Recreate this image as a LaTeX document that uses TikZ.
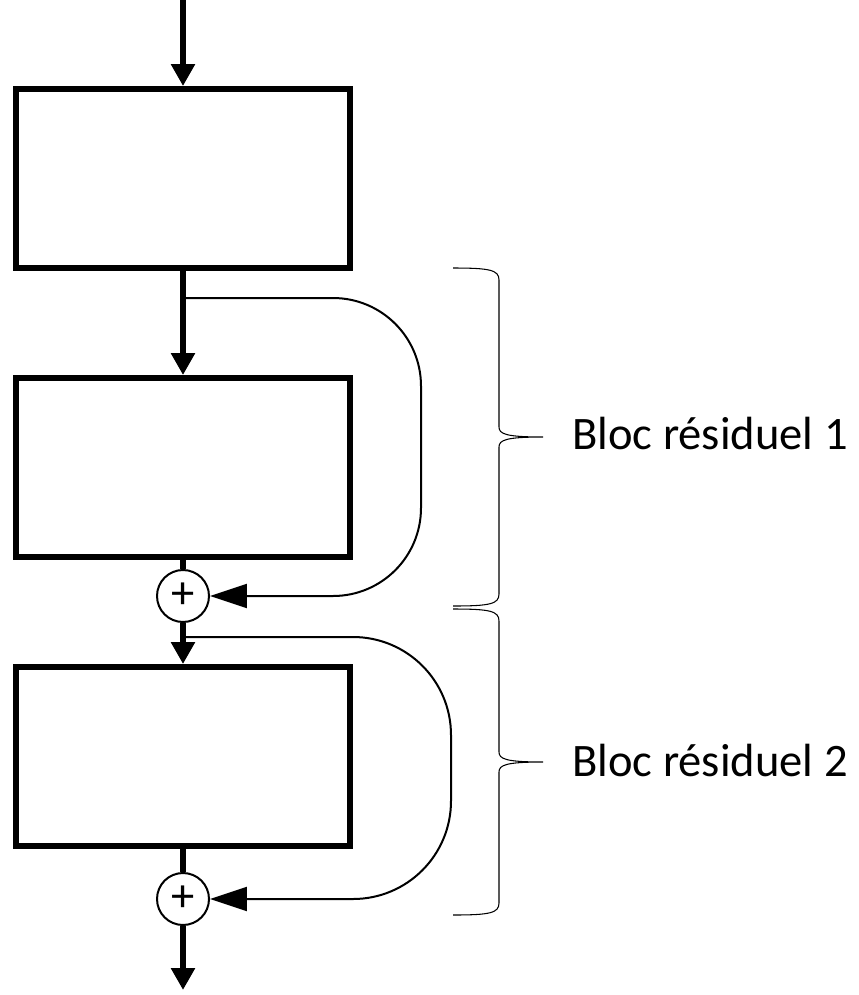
\documentclass[tikz,border=0pt]{standalone}
\usepackage{fontspec}
\setmainfont{Carlito}
\usetikzlibrary{positioning}
\usetikzlibrary{arrows.meta}
\tikzset{>=latex}
\tikzstyle{bloc} = [draw, line width=0.12cm, minimum width=6.68cm, minimum height=3.58cm, inner sep=0]
\tikzstyle{somme} = [draw, circle, line width=0.04cm, minimum size=1.04cm, inner sep=0, font=\fontsize{26.5}{30}\selectfont]
\tikzstyle{flux} = [line width=0.12cm, -{Triangle[length=0.44cm, width=0.46cm]}]
\tikzstyle{saut} = [line width=0.04cm, -{Triangle[length=0.74cm, width=0.48cm]}]
\tikzstyle{accolade} = [line width=0.6pt]
\tikzstyle{legende} = [inner sep=0, anchor=base west, font=\fontsize{26.5}{30}\selectfont]

\begin{document}
\begin{tikzpicture}[x=0.02cm, y=-0.02cm]
\useasboundingbox (0, 0) rectangle (859, 995);

\coordinate (entree) at (183, 0);
\node [bloc] (blocA) at (183, 178.5) {};
\node [bloc] (blocB) at (183, 467.5) {};
\node [somme] (sommeA) at (183, 596) {+};
\node [bloc] (blocC) at (183, 756.5) {};
\node [somme] (sommeB) at (183, 899) {+};
\coordinate (sortie) at (183, 990);
\coordinate (sautA) at (183, 298);
\coordinate (sautB) at (183, 637);

% chemin principal
\draw [flux] (entree) to (blocA);
\draw [flux] (blocA) to (blocB);
\draw [line width=0.12cm] (blocB) to (sommeA);
\draw [flux] (sommeA) to (blocC);
\draw [line width=0.12cm] (blocC) to (sommeB);
\draw [flux] (sommeB) to (sortie);

% connexions residuelles
\draw [saut] (sautA) [rounded corners=1.76cm] -- ++(238, 0) |- (sommeA.east);
\draw [saut] (sautB) [rounded corners=1.96cm] -- ++(268, 0) |- (sommeB.east);

% accolades
\draw [accolade] (453, 268) .. controls (490, 268) and (499, 270) .. (499, 280) -- (499, 427)
  .. controls (499, 434) and (506, 437) .. (543, 437)
  .. controls (506, 437) and (499, 440) .. (499, 447) -- (499, 594)
  .. controls (499, 604) and (490, 606) .. (453, 606);
\draw [accolade] (453, 609) .. controls (490, 609) and (499, 611) .. (499, 621) -- (499, 752)
  .. controls (499, 759) and (506, 762) .. (543, 762)
  .. controls (506, 762) and (499, 765) .. (499, 772) -- (499, 903)
  .. controls (499, 913) and (490, 915) .. (453, 915);

\node [legende] (txtA) at (572, 449) {Bloc résiduel 1};
\node [legende] (txtB) at (572, 776) {Bloc résiduel 2};
\end{tikzpicture}
\end{document}
